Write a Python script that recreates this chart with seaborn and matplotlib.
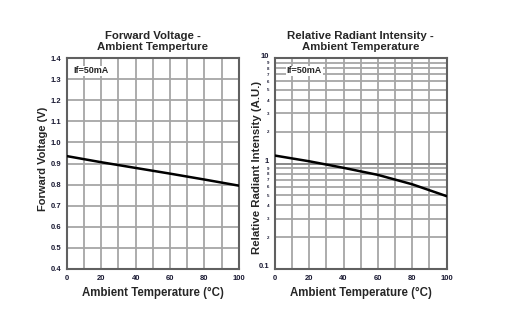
import numpy as np
import pandas as pd
import matplotlib
matplotlib.use("Agg")
import matplotlib.pyplot as plt
import matplotlib.transforms as mtrans
import seaborn as sns
from matplotlib.ticker import FixedLocator, FixedFormatter

sns.set_theme(style="white")
plt.rcParams['font.family'] = ['Liberation Sans', 'DejaVu Sans']

temp = [0, 20, 40, 60, 80, 100]
vf = [0.935, 0.906, 0.879, 0.852, 0.824, 0.795]
intensity = [1.19, 1.05, 0.91, 0.78, 0.635, 0.49]

vf_ticks = [0.4, 0.5, 0.6, 0.7, 0.8, 0.9, 1.0, 1.1, 1.2, 1.3, 1.4]
vf_labels = ["0.4", "0.5", "0.6", "0.7", "0.8", "0.9", "1.0", "1.1", "1.2", "1.3", "1.4"]
x_ticks = [0, 20, 40, 60, 80, 100]
int_major = [0.1, 1, 10]
int_major_labels = ["0.1", "1", "10"]
int_minor = [0.2, 0.3, 0.4, 0.5, 0.6, 0.7, 0.8, 0.9, 2, 3, 4, 5, 6, 7, 8, 9]
int_minor_labels = ["2", "3", "4", "5", "6", "7", "8", "9", "2", "3", "4", "5", "6", "7", "8", "9"]

df1 = pd.DataFrame({"T": temp, "V": vf})
df2 = pd.DataFrame({"T": temp, "I": intensity})

fig = plt.figure(figsize=(5.07, 3.28), dpi=100)
ax1 = fig.add_axes([0.132, 0.180, 0.339, 0.643])
ax2 = fig.add_axes([0.542, 0.180, 0.339, 0.643])

grid_c = "#a6a6a6"
frame_c = "#606060"
tick_c = "#1a1a33"

sns.lineplot(data=df1, x="T", y="V", ax=ax1, color="black", lw=1.8, zorder=3)
sns.lineplot(data=df2, x="T", y="I", ax=ax2, color="black", lw=1.8, zorder=3)

for ax in (ax1, ax2):
    ax.set_xlim(0, 100)
    ax.set_xticks(x_ticks)
    ax.set_xticklabels([str(t) for t in x_ticks], fontsize=5.5, fontweight="bold", color=tick_c)
    for xv in range(10, 100, 10):
        ax.axvline(xv, color=grid_c, lw=1.3, zorder=1)
    for s in ax.spines.values():
        s.set_color(frame_c)
        s.set_linewidth(1.5)
    ax.set_xlabel("Ambient Temperature (\u00b0C)", fontsize=8.3, fontweight="bold", labelpad=4)
    ax.tick_params(axis="both", which="both", length=2, width=0.8, color=frame_c, pad=2)

ax1.set_ylim(0.4, 1.4)
ax1.set_yticks(vf_ticks)
ax1.set_yticklabels(vf_labels, fontsize=5.5, fontweight="bold", color=tick_c)
for yv in vf_ticks[1:-1]:
    ax1.axhline(yv, color=grid_c, lw=1.3, zorder=1)
ax1.set_ylabel("Forward Voltage (V)", fontsize=8.0, fontweight="bold")
ax1.yaxis.set_label_coords(-0.11, 0.52)
ax1.set_title("Forward Voltage -\nAmbient Temperture", fontsize=8.2, fontweight="bold", pad=6, linespacing=1.1)
ax1.text(0.04, 0.96, "If=50mA", transform=ax1.transAxes, fontsize=6.5, fontweight="bold",
         va="top", ha="left", bbox=dict(facecolor="white", edgecolor="none", pad=0.5), zorder=4)

ax2.set_yscale("log")
ax2.set_ylim(0.1, 10)
ax2.yaxis.set_major_locator(FixedLocator(int_major))
ax2.yaxis.set_major_formatter(FixedFormatter(int_major_labels))
ax2.yaxis.set_minor_locator(FixedLocator(int_minor))
ax2.yaxis.set_minor_formatter(FixedFormatter(int_minor_labels))
ax2.tick_params(axis="y", which="major", labelsize=5.5)
ax2.tick_params(axis="y", which="minor", labelsize=3.2)
fig.canvas.draw()
shift_up = mtrans.ScaledTranslation(0, 3 / 100, fig.dpi_scale_trans)
for lab in ax2.get_yticklabels(which="major"):
    lab.set_transform(lab.get_transform() + shift_up)
for lab in ax2.get_yticklabels(which="both"):
    lab.set_fontweight("bold")
    lab.set_color(tick_c)
ax2.axhline(1, color="#808080", lw=1.3, zorder=1)
for yv in int_minor:
    ax2.axhline(yv, color=grid_c, lw=1.3, zorder=1)
ax2.set_ylabel("Relative Radiant Intensity (A.U.)", fontsize=8.2, fontweight="bold")
ax2.yaxis.set_label_coords(-0.075, 0.48)
ax2.set_title("Relative Radiant Intensity -\nAmbient Temperature", fontsize=8.2, fontweight="bold", pad=6, linespacing=1.1)
ax2.text(0.07, 0.96, "If=50mA", transform=ax2.transAxes, fontsize=6.5, fontweight="bold",
         va="top", ha="left", bbox=dict(facecolor="white", edgecolor="none", pad=0.5), zorder=4)

fig.savefig("out.png", dpi=100, facecolor="white")
